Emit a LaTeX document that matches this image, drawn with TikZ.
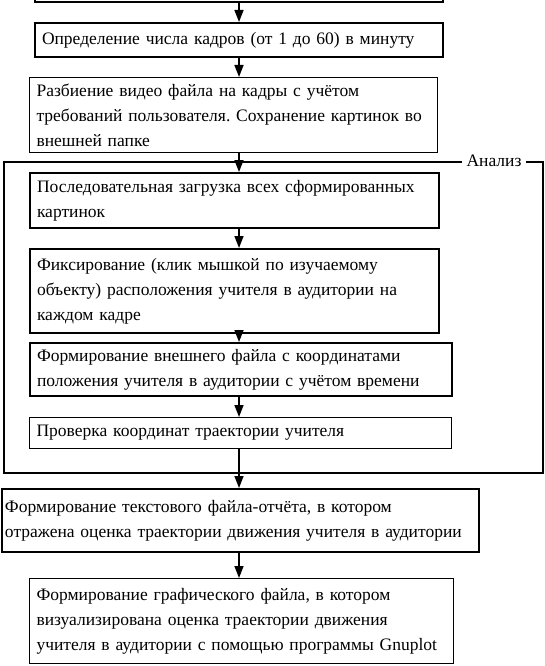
\documentclass[tikz,border=0pt]{standalone}
\usepackage{fontspec}
\setmainfont{Liberation Serif}
\usetikzlibrary{arrows.meta}
\tikzset{
  boxbase/.style={draw, anchor=north west, inner xsep=7pt, inner ysep=0pt, align=left,
    font=\frenchspacing\fontsize{17.5pt}{25pt}\selectfont},
  thickbox/.style={boxbase, line width=2pt},
  thinbox/.style={boxbase, line width=1.1pt},
  arr/.style={line width=1.6pt, -{Triangle[width=9pt,length=12pt]}},
  framebox/.style={draw, line width=1.5pt, anchor=north west, inner sep=0pt},
  lbl/.style={fill=white, inner xsep=5pt, inner ysep=1pt, font=\fontsize{17.5pt}{20pt}\selectfont}
}
\begin{document}
\begin{tikzpicture}[x=1pt,y=-1pt]
\useasboundingbox (0,0) rectangle (544,666);
\coordinate (ax) at (239,0);
% analysis frame
\node[framebox, minimum width=539pt, minimum height=311pt] (frame) at (3,161) {};
\node[lbl] (flbl) at (frame.north -| 494,0) {Анализ};
% boxes
\node[thickbox, minimum width=408pt, minimum height=41pt] (top) at (34,-40) {};
\node[thickbox, minimum width=408pt, minimum height=34pt, text width=394pt] (b1) at (34,22)
  {Определение числа кадров (от 1 до 60) в минуту};
\node[thinbox, minimum width=408pt, minimum height=75pt, text width=394pt] (b2) at (29,77)
  {Разбиение видео файла на кадры с учётом\\требований пользователя. Сохранение картинок во\\внешней папке};
\node[thickbox, minimum width=409pt, minimum height=55pt, text width=395pt] (b3) at (29,172)
  {Последовательная загрузка всех сформированных\\картинок};
\node[thickbox, minimum width=409pt, minimum height=84pt, text width=395pt] (b4) at (29,248)
  {Фиксирование (клик мышкой по изучаемому\\объекту) расположения учителя в аудитории на\\каждом кадре};
\node[thickbox, minimum width=422pt, minimum height=53pt, text width=408pt] (b5) at (29,342)
  {Формирование внешнего файла с координатами\\положения учителя в аудитории с учётом времени};
\node[thinbox, minimum width=422pt, minimum height=31pt, text width=408pt] (b6) at (29,417)
  {Проверка координат траектории учителя};
\node[thickbox, minimum width=477pt, minimum height=63pt, text width=471pt, inner xsep=3pt] (b7) at (1,488)
  {Формирование текстового файла-отчёта, в котором\\отражена оценка траектории движения учителя в аудитории};
\node[thinbox, minimum width=424pt, minimum height=85pt, text width=410pt] (b8) at (29,578)
  {Формирование графического файла, в котором\\визуализирована оценка траектории движения\\учителя в аудитории с помощью программы Gnuplot};
% arrows
\draw[arr] (top.south -| ax) -- (b1.north -| ax);
\draw[arr] (b1.south -| ax) -- (b2.north -| ax);
\draw[arr] (b2.south -| ax) -- (b3.north -| ax);
\draw[arr] (b3.south -| ax) -- (b4.north -| ax);
\draw[arr] (b4.south -| ax) -- (b5.north -| ax);
\draw[arr] (b5.south -| ax) -- (b6.north -| ax);
\draw[arr] (b6.south -| ax) -- (b7.north -| ax);
\draw[arr] (b7.south -| ax) -- (b8.north -| ax);
\end{tikzpicture}
\end{document}
